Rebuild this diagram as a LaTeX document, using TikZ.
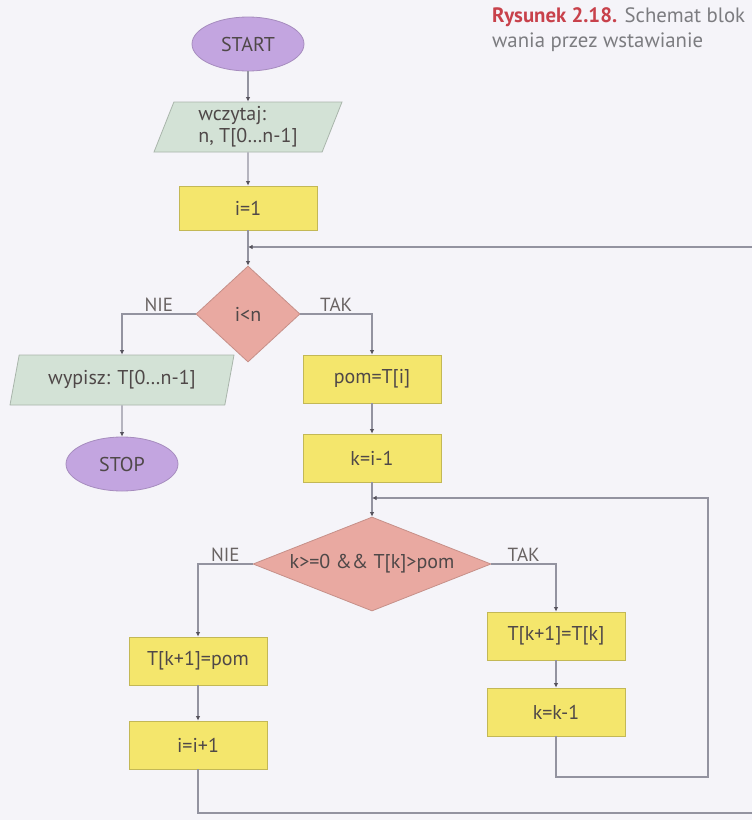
\documentclass[tikz,border=0pt]{standalone}
\usepackage{fontspec}
\setmainfont{PT Sans}
\usetikzlibrary{shapes.geometric,arrows.meta}

\definecolor{pagebg}{HTML}{F5F4F9}
\definecolor{termfill}{HTML}{C3A5E0}
\definecolor{iofill}{HTML}{D3E2D6}
\definecolor{procfill}{HTML}{F4E66C}
\definecolor{decfill}{HTML}{E9A9A1}
\definecolor{linegray}{HTML}{9393A0}
\definecolor{tipgray}{HTML}{55525C}
\definecolor{txtgray}{HTML}{4F4848}
\definecolor{capred}{HTML}{C8414B}
\definecolor{capgray}{HTML}{7C7C80}

\tikzset{
  base/.style={font=\fontsize{20}{22}\selectfont, text=txtgray, line width=0.8pt, inner sep=0pt},
  terminal/.style={base, ellipse, fill=termfill, draw=termfill!85!black,
    minimum width=112pt, minimum height=54pt},
  io/.style={base, trapezium, trapezium left angle=64, trapezium right angle=116,
    trapezium stretches body, fill=iofill, draw=iofill!80!black, minimum height=50pt},
  proc/.style={base, rectangle, fill=procfill, draw=procfill!80!black,
    minimum width=138pt, minimum height=48pt},
  decision/.style={base, diamond, fill=decfill, draw=decfill!85!black},
  flow/.style={draw=linegray, line width=1.1pt,
    -{Latex[length=4.5pt,width=4.5pt,color=tipgray]}},
  plain/.style={draw=linegray, line width=1.1pt},
  branch/.style={font=\fontsize{19}{21}\selectfont, text=txtgray!85, inner sep=2pt},
  caption/.style={anchor=base west, inner sep=0pt, font=\fontsize{20.8}{25}\selectfont, text=capgray}
}

\begin{document}
\begin{tikzpicture}[x=1pt,y=-1pt]
  % page
  \fill[pagebg] (0,0) rectangle (752,820);
  \useasboundingbox (0,0) rectangle (752,820);

  % caption
  \node[caption] (cap1) at (492,22) {\textcolor{capred}{\bfseries Rysunek 2.18.} Schemat blok};
  \node[caption] (cap2) at (492,47) {wania przez wstawianie};

  % outer loop
  \node[terminal] (start) at (248,44) {START};
  \node[io, minimum width=188pt, align=left] (read) at (248,127) {wczytaj:\\n, T[0…n-1]};
  \node[proc, minimum height=44pt] (init) at (248,208) {i=1};
  \coordinate (j1) at (248,247);
  \node[decision, aspect=1.08, minimum width=104pt, minimum height=96pt] (c1) at (248,314) {i<n};
  \node[io, minimum width=224pt] (write) at (122,380) {wypisz: T[0…n-1]};
  \node[terminal] (stop) at (122,464) {STOP};
  \node[proc] (pom) at (372,379) {pom=T[i]};
  \node[proc] (kset) at (372,458) {k=i-1};
  \coordinate (j2) at (372,498);

  % inner loop
  \node[decision, aspect=2.5, minimum width=238pt, minimum height=94pt] (c2) at (372,564)
    {k>=0 \&\& T[k]>pom};
  \node[proc] (ins) at (198,661) {T[k+1]=pom};
  \node[proc] (inc) at (198,745) {i=i+1};
  \node[proc] (shift) at (556,636) {T[k+1]=T[k]};
  \node[proc] (dec) at (556,712) {k=k-1};

  \coordinate (back) at (752,247);
  \coordinate (bl) at (198,813);
  \coordinate (br) at (752,813);
  \coordinate (lr) at (708,777);

  % connectors
  \draw[flow] (start) -- (read);
  \draw[flow] (read) -- (init);
  \draw[plain] (init) -- (j1);
  \draw[flow] (back) -- (j1);
  \draw[flow] (j1) -- (c1);
  \draw[flow] (c1.west) -| node[branch, pos=0.25, above] {NIE} (write.north);
  \draw[flow] (c1.east) -| node[branch, pos=0.25, above] {TAK} (pom.north);
  \draw[flow] (write) -- (stop);
  \draw[flow] (pom) -- (kset);
  \draw[plain] (kset) -- (j2);
  \draw[flow] (j2) -- (c2);
  \draw[flow] (c2.west) -| node[branch, pos=0.25, above] {NIE} (ins.north);
  \draw[flow] (c2.east) -| node[branch, pos=0.25, above] {TAK} (shift.north);
  \draw[flow] (ins) -- (inc);
  \draw[flow] (shift) -- (dec);
  \draw[flow] (dec.south) |- (lr) |- (j2);
  \draw[plain] (inc.south) -- (bl) -- (br);
\end{tikzpicture}
\end{document}
